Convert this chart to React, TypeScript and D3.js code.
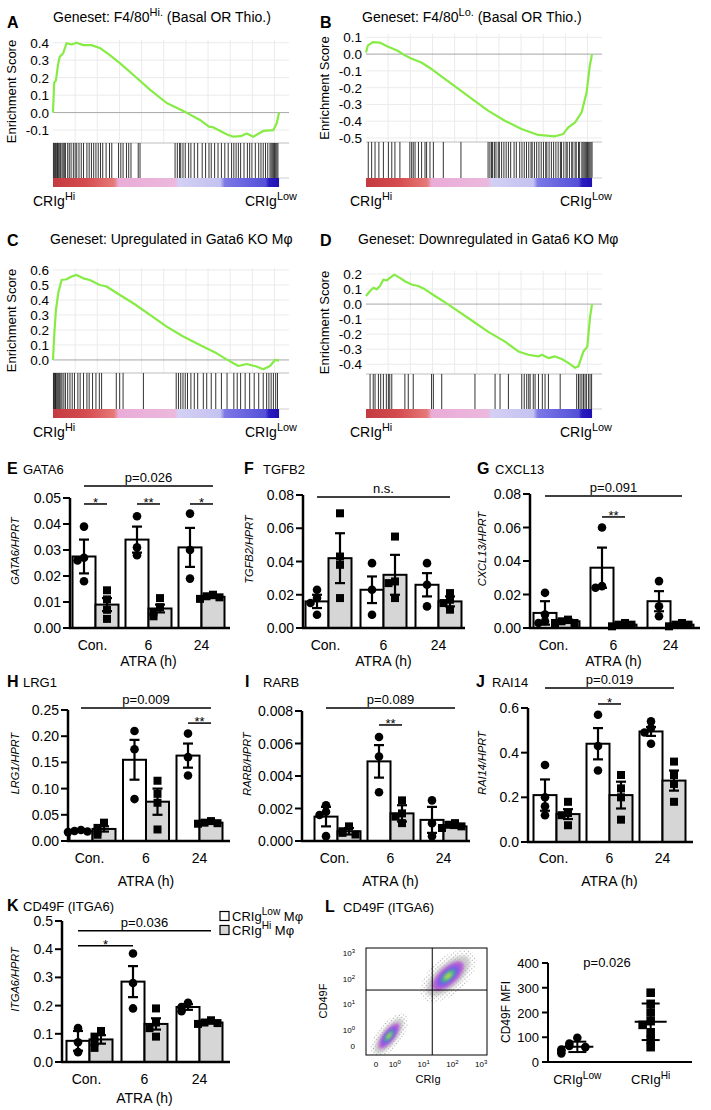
import React from "react";
import * as d3 from "d3";

const FONT = "'Liberation Sans', Arial, Helvetica, sans-serif";

// ---------------- GSEA data (rank fraction, enrichment score) ----------------
const A_rank = [0, 0.005, 0.013, 0.023, 0.03, 0.045, 0.06, 0.082, 0.104, 0.134, 0.17, 0.21, 0.25, 0.297, 0.356, 0.43, 0.503, 0.59, 0.65, 0.69, 0.71, 0.77, 0.798, 0.83, 0.857, 0.886, 0.93, 0.975, 0.99, 1.0];
const A_es = [0, 0.17, 0.185, 0.28, 0.32, 0.34, 0.397, 0.39, 0.4, 0.386, 0.386, 0.368, 0.33, 0.282, 0.215, 0.13, 0.055, 0, -0.042, -0.08, -0.085, -0.125, -0.138, -0.135, -0.12, -0.138, -0.105, -0.1, -0.06, 0];
const A_hits = [0.002, 0.006, 0.01, 0.013, 0.017, 0.02, 0.025, 0.03, 0.034, 0.04, 0.045, 0.05, 0.055, 0.065, 0.072, 0.08, 0.09, 0.098, 0.105, 0.115, 0.125, 0.135, 0.15, 0.16, 0.17, 0.18, 0.19, 0.2, 0.21, 0.22, 0.235, 0.25, 0.26, 0.29, 0.3, 0.31, 0.325, 0.335, 0.345, 0.377, 0.385, 0.54, 0.55, 0.56, 0.565, 0.575, 0.585, 0.6, 0.61, 0.625, 0.64, 0.66, 0.675, 0.69, 0.7, 0.715, 0.73, 0.745, 0.76, 0.775, 0.79, 0.8, 0.81, 0.82, 0.83, 0.845, 0.86, 0.87, 0.88, 0.895, 0.91, 0.92, 0.93, 0.94, 0.95, 0.96, 0.965, 0.97, 0.975, 0.98, 0.985, 0.99, 0.995];

const B_rank = [0, 0.008, 0.03, 0.06, 0.096, 0.14, 0.17, 0.2, 0.245, 0.29, 0.35, 0.394, 0.47, 0.54, 0.614, 0.688, 0.762, 0.836, 0.873, 0.895, 0.925, 0.954, 0.976, 0.99, 1.0];
const B_es = [0.01, 0.05, 0.072, 0.069, 0.046, 0.02, -0.006, -0.026, -0.05, -0.089, -0.149, -0.193, -0.268, -0.337, -0.397, -0.446, -0.482, -0.49, -0.476, -0.437, -0.407, -0.347, -0.228, -0.069, 0];
const B_hits = [0.01, 0.025, 0.04, 0.057, 0.077, 0.099, 0.114, 0.128, 0.15, 0.194, 0.202, 0.209, 0.217, 0.232, 0.246, 0.261, 0.268, 0.283, 0.298, 0.342, 0.42, 0.54, 0.548, 0.555, 0.56, 0.568, 0.575, 0.585, 0.59, 0.6, 0.61, 0.62, 0.63, 0.64, 0.655, 0.665, 0.68, 0.69, 0.7, 0.71, 0.72, 0.73, 0.735, 0.745, 0.755, 0.765, 0.775, 0.785, 0.795, 0.8, 0.81, 0.82, 0.83, 0.84, 0.85, 0.86, 0.865, 0.875, 0.885, 0.89, 0.9, 0.91, 0.915, 0.925, 0.93, 0.94, 0.945, 0.955, 0.96, 0.965, 0.97, 0.975, 0.98, 0.985, 0.99, 0.995, 1.0];

const C_rank = [0, 0.006, 0.013, 0.023, 0.038, 0.06, 0.082, 0.104, 0.134, 0.163, 0.207, 0.237, 0.296, 0.355, 0.429, 0.503, 0.576, 0.65, 0.724, 0.768, 0.82, 0.857, 0.9, 0.93, 0.96, 0.982, 1.0];
const C_es = [0, 0.178, 0.333, 0.444, 0.533, 0.538, 0.556, 0.567, 0.544, 0.533, 0.5, 0.49, 0.433, 0.378, 0.3, 0.222, 0.156, 0.1, 0.044, 0.004, -0.04, -0.027, -0.044, -0.062, -0.04, 0, -0.004];
const C_hits = [0.002, 0.005, 0.008, 0.011, 0.014, 0.018, 0.022, 0.026, 0.03, 0.035, 0.04, 0.048, 0.055, 0.065, 0.075, 0.085, 0.095, 0.11, 0.12, 0.135, 0.15, 0.16, 0.175, 0.19, 0.205, 0.215, 0.28, 0.295, 0.31, 0.4, 0.545, 0.555, 0.565, 0.575, 0.585, 0.595, 0.61, 0.625, 0.64, 0.665, 0.68, 0.7, 0.72, 0.745, 0.77, 0.8, 0.815, 0.83, 0.85, 0.87, 0.89, 0.91, 0.93, 0.945, 0.955, 0.965, 0.975, 0.985, 0.993];

const D_rank = [0, 0.018, 0.033, 0.047, 0.062, 0.077, 0.092, 0.106, 0.125, 0.15, 0.172, 0.202, 0.231, 0.261, 0.305, 0.35, 0.394, 0.468, 0.541, 0.615, 0.674, 0.718, 0.763, 0.778, 0.807, 0.836, 0.866, 0.895, 0.925, 0.94, 0.962, 0.979, 0.991, 1.0];
const D_es = [0.054, 0.087, 0.109, 0.098, 0.12, 0.163, 0.157, 0.174, 0.196, 0.174, 0.152, 0.13, 0.12, 0.098, 0.054, 0.011, -0.033, -0.109, -0.185, -0.25, -0.315, -0.337, -0.348, -0.337, -0.359, -0.348, -0.365, -0.391, -0.424, -0.413, -0.315, -0.283, -0.087, 0];
const D_hits = [0.018, 0.032, 0.04, 0.055, 0.065, 0.077, 0.09, 0.099, 0.105, 0.114, 0.172, 0.187, 0.209, 0.29, 0.298, 0.335, 0.482, 0.571, 0.593, 0.63, 0.689, 0.7, 0.711, 0.72, 0.726, 0.74, 0.748, 0.763, 0.78, 0.792, 0.807, 0.859, 0.932, 0.94, 0.947, 0.955, 0.962, 0.969, 0.975, 0.984, 0.991, 0.998];

const GRID_RANKS = [0.098, 0.196, 0.294, 0.392, 0.49, 0.588, 0.686, 0.784, 0.882, 0.98];
const CBAR_OFFSETS = [0, 0.15, 0.27, 0.29, 0.54, 0.555, 0.74, 0.76, 0.94, 0.955, 1];
const CBAR_COLORS = ["#c33a40", "#d64d50", "#e57a78", "#e9acd8", "#ecb8dc", "#d2d0f4", "#c4c2f0", "#7c78e6", "#5450d8", "#2a1cc0", "#1e10b0"];

// ---------------- qPCR bar data ----------------
const CATS = ["Con.", "6", "24"];
const SERIES = ["low", "hi"];

const GATA6_low_mean = [0.0275, 0.034, 0.031];
const GATA6_low_sem = [0.0065, 0.005, 0.0075];
const GATA6_low_pts = [[0.039, 0.027, 0.026, 0.018], [0.043, 0.031, 0.028], [0.044, 0.03, 0.019]];
const GATA6_hi_mean = [0.009, 0.0075, 0.012];
const GATA6_hi_sem = [0.0025, 0.0015, 0.0005];
const GATA6_hi_pts = [[0.0145, 0.011, 0.007, 0.0035], [0.0115, 0.008, 0.006, 0.0045], [0.0128, 0.0122, 0.0118, 0.0112]];

const TGFB2_low_mean = [0.016, 0.023, 0.026];
const TGFB2_low_sem = [0.004, 0.008, 0.007];
const TGFB2_low_pts = [[0.023, 0.018, 0.015, 0.008], [0.039, 0.023, 0.008], [0.039, 0.026, 0.013]];
const TGFB2_hi_mean = [0.042, 0.032, 0.016];
const TGFB2_hi_sem = [0.015, 0.012, 0.003];
const TGFB2_hi_pts = [[0.069, 0.043, 0.038, 0.018], [0.055, 0.028, 0.027, 0.018], [0.021, 0.017, 0.015, 0.011]];

const CXCL13_low_mean = [0.009, 0.036, 0.016];
const CXCL13_low_sem = [0.007, 0.012, 0.006];
const CXCL13_low_pts = [[0.021, 0.008, 0.004, 0.003], [0.06, 0.025, 0.024], [0.028, 0.013, 0.007]];
const CXCL13_hi_mean = [0.004, 0.002, 0.002];
const CXCL13_hi_sem = [0.001, 0.0008, 0.0008];
const CXCL13_hi_pts = [[0.005, 0.004, 0.003, 0.003], [0.003, 0.002, 0.002, 0.001], [0.003, 0.002, 0.002, 0.001]];

const LRG1_low_mean = [0.019, 0.155, 0.163];
const LRG1_low_sem = [0.0015, 0.038, 0.023];
const LRG1_low_pts = [[0.021, 0.019, 0.018, 0.017], [0.21, 0.175, 0.08], [0.205, 0.16, 0.125]];
const LRG1_hi_mean = [0.023, 0.075, 0.035];
const LRG1_hi_sem = [0.005, 0.025, 0.002];
const LRG1_hi_pts = [[0.035, 0.025, 0.018, 0.012], [0.115, 0.09, 0.073, 0.022], [0.038, 0.035, 0.034, 0.033]];

const RARB_low_mean = [0.0015, 0.0049, 0.0013];
const RARB_low_sem = [0.0006, 0.001, 0.0008];
const RARB_low_pts = [[0.0022, 0.0018, 0.0016, 0.0003], [0.0064, 0.0052, 0.003], [0.0025, 0.0011, 0.0003]];
const RARB_hi_mean = [0.0006, 0.0017, 0.0009];
const RARB_hi_sem = [0.0002, 0.0005, 0.0001];
const RARB_hi_pts = [[0.0009, 0.0006, 0.0005, 0.0004], [0.0025, 0.0017, 0.0015, 0.0011], [0.0011, 0.001, 0.0009, 0.0008]];

const RAI14_low_mean = [0.21, 0.44, 0.495];
const RAI14_low_sem = [0.07, 0.07, 0.02];
const RAI14_low_pts = [[0.345, 0.2, 0.16, 0.12], [0.57, 0.43, 0.32], [0.54, 0.51, 0.49, 0.44]];
const RAI14_hi_mean = [0.125, 0.21, 0.275];
const RAI14_hi_sem = [0.022, 0.06, 0.045];
const RAI14_hi_pts = [[0.18, 0.13, 0.12, 0.075], [0.3, 0.24, 0.2, 0.1], [0.36, 0.3, 0.26, 0.18]];

const ITGA6_low_mean = [0.075, 0.285, 0.195];
const ITGA6_low_sem = [0.035, 0.055, 0.01];
const ITGA6_low_pts = [[0.12, 0.07, 0.035], [0.385, 0.28, 0.19], [0.21, 0.195, 0.18]];
const ITGA6_hi_mean = [0.08, 0.135, 0.14];
const ITGA6_hi_sem = [0.015, 0.02, 0.004];
const ITGA6_hi_pts = [[0.11, 0.09, 0.07, 0.05], [0.19, 0.14, 0.12, 0.09], [0.148, 0.14, 0.138, 0.135]];

// ---------------- Flow / MFI data ----------------
const FLOW_TICK_POS = [-0.65, 0, 1, 2, 3];
const FLOW_TICK_EXP = ["", "0", "1", "2", "3"];
const FLOW_CLUSTER_X = [1.85, -0.2];
const FLOW_CLUSTER_Y = [2.1, -0.25];
const FLOW_CLUSTER_RX = [0.95, 0.75];
const FLOW_CLUSTER_RY = [0.42, 0.28];
const FLOW_CLUSTER_ANGLE = [-42, -52];
const FLOW_GATE_X = 1.3;
const FLOW_GATE_Y = 1.55;

const MFI_GROUPS = ["Low", "Hi"];
const MFI_low = [98, 75, 65, 60, 50, 45, 35];
const MFI_hi = [280, 235, 200, 165, 150, 120, 90, 60];
const MFI_TICKS = [0, 100, 200, 300, 400];

// ---------------- helpers ----------------
function spread(vals: number[], y: (v: number) => number, gap: number, thresh: number) {
  const out: number[] = [];
  vals.forEach((v, i) => {
    let k = 0;
    for (let j = 0; j < i; j++) if (Math.abs(y(vals[j]) - y(v)) < thresh) k++;
    out.push(k === 0 ? 0 : (k % 2 ? -1 : 1) * Math.ceil(k / 2) * gap);
  });
  return out;
}

function CRIg({ x, y, sup, size = 14, anchor = "start", extra = "" }: any) {
  return (
    <text x={x} y={y} fontSize={size} textAnchor={anchor} fontFamily={FONT}>
      CRIg
      <tspan fontSize={size * 0.78} dy={-size * 0.42}>{sup}</tspan>
      {extra ? <tspan dy={size * 0.42}>{extra}</tspan> : null}
    </text>
  );
}

function Gsea({ cfg }: any) {
  const x = d3.scaleLinear().domain([0, 1.044]).range([cfg.x0, cfg.x1]);
  const y = d3.scaleLinear().domain([cfg.esMin, cfg.esMax]).range([cfg.esBottom, cfg.top]);
  const pts: [number, number][] = cfg.rank.map((r: number, i: number) => [r, cfg.es[i]]);
  const path = d3.line<[number, number]>().x((d) => x(d[0])).y((d) => y(d[1]))(pts) || "";
  return (
    <g fontFamily={FONT}>
      {GRID_RANKS.map((r, i) => (
        <line key={"v" + i} x1={x(r)} x2={x(r)} y1={cfg.top} y2={cfg.esBottom} stroke="#ebebeb" strokeWidth={1} />
      ))}
      {cfg.ticks.map((t: number, i: number) => (
        <line key={"h" + i} x1={cfg.x0} x2={cfg.x1} y1={y(t)} y2={y(t)} stroke={t === 0 ? "#a6a6a6" : "#ebebeb"} strokeWidth={1} />
      ))}
      {cfg.ticks.map((t: number, i: number) => (
        <text key={"t" + i} x={cfg.tickX} y={y(t) + 5} fontSize={13.5} textAnchor="end">{t.toFixed(1)}</text>
      ))}
      <line x1={cfg.x0} x2={cfg.x1} y1={cfg.esBottom} y2={cfg.esBottom} stroke="#bdbdbd" strokeWidth={1} />
      <path d={path} fill="none" stroke="#86ec45" strokeWidth={2.2} strokeLinejoin="round" />
      {cfg.hits.map((h: number, i: number) => (
        <line key={"k" + i} x1={x(h)} x2={x(h)} y1={cfg.esBottom} y2={cfg.hitBottom} stroke="#111" strokeWidth={1} opacity={0.85} />
      ))}
      <rect x={x(0)} y={cfg.hitBottom} width={x(1) - x(0)} height={cfg.barBottom - cfg.hitBottom} fill="url(#cbar)" />
      <line x1={x(1)} x2={cfg.x1} y1={cfg.hitBottom} y2={cfg.hitBottom} stroke="#cfcfcf" strokeWidth={1} />
      <text transform={`translate(${cfg.yLabelX},${(cfg.top + cfg.esBottom) / 2}) rotate(-90)`} fontSize={13} textAnchor="middle">Enrichment Score</text>
      <text x={cfg.letterX} y={cfg.letterY} fontSize={16} fontWeight="bold">{cfg.letter}</text>
      <text x={cfg.titleX} y={cfg.titleY} fontSize={14}>
        {cfg.title1}
        {cfg.titleSup ? <tspan fontSize={11} dy={-6}>{cfg.titleSup}</tspan> : null}
        {cfg.titleSup ? <tspan dy={6}>{cfg.title2}</tspan> : null}
      </text>
      <CRIg x={cfg.hiX} y={cfg.labelY} sup="Hi" />
      <CRIg x={cfg.lowX} y={cfg.labelY} sup="Low" />
    </g>
  );
}

function BarPanel({ cfg }: any) {
  const y = d3.scaleLinear().domain([0, cfg.yMaxVal]).range([cfg.y0, cfg.yMaxPx]);
  const xb = d3
    .scaleBand()
    .domain(CATS)
    .range([cfg.bandStart, cfg.bandStart + 2 * cfg.step + cfg.bw])
    .paddingInner(1 - cfg.bw / cfg.step)
    .paddingOuter(0);
  const xs = d3.scaleBand().domain(SERIES).range([0, xb.bandwidth()]);
  const cx = (g: number, s: number) => (xb(CATS[g]) as number) + (xs(SERIES[s]) as number) + xs.bandwidth() / 2;
  const series = [
    { mean: cfg.lowMean, sem: cfg.lowSem, pts: cfg.lowPts, fill: "#ffffff" },
    { mean: cfg.hiMean, sem: cfg.hiSem, pts: cfg.hiPts, fill: "#d6d6d6" },
  ];
  const plotMid = (cfg.y0 + cfg.yMaxPx) / 2;
  return (
    <g fontFamily={FONT}>
      <text x={cfg.letterX} y={cfg.letterY} fontSize={16} fontWeight="bold">{cfg.letter}</text>
      <text x={cfg.geneX} y={cfg.letterY} fontSize={13}>{cfg.gene}</text>
      {series.map((s, si) =>
        CATS.map((c, gi) => {
          const bx = (xb(c) as number) + (xs(SERIES[si]) as number);
          const m = s.mean[gi];
          const e = s.sem[gi];
          const center = cx(gi, si);
          const offs = spread(s.pts[gi], y, 6.5, 6);
          return (
            <g key={si + "-" + gi}>
              <rect x={bx} y={y(m)} width={xs.bandwidth()} height={cfg.y0 - y(m)} fill={s.fill} stroke="#000" strokeWidth={2} />
              <line x1={center} x2={center} y1={y(Math.max(0, m - e))} y2={y(m + e)} stroke="#000" strokeWidth={2.2} />
              <line x1={center - 5} x2={center + 5} y1={y(m + e)} y2={y(m + e)} stroke="#000" strokeWidth={2.2} />
              <line x1={center - 5} x2={center + 5} y1={y(Math.max(0, m - e))} y2={y(Math.max(0, m - e))} stroke="#000" strokeWidth={2.2} />
              {s.pts[gi].map((v: number, pi: number) =>
                si === 0 ? (
                  <circle key={pi} cx={center + offs[pi]} cy={y(v)} r={4.3} fill="#000" />
                ) : (
                  <rect key={pi} x={center + offs[pi] - 4} y={y(v) - 4} width={8} height={8} fill="#000" />
                )
              )}
            </g>
          );
        })
      )}
      <line x1={cfg.axisX} x2={cfg.axisX} y1={cfg.y0 + 1} y2={cfg.yMaxPx} stroke="#000" strokeWidth={2.5} />
      <line x1={cfg.axisX - 1} x2={cfg.xEnd} y1={cfg.y0} y2={cfg.y0} stroke="#000" strokeWidth={2.5} />
      {cfg.ticks.map((t: number, i: number) => (
        <g key={i}>
          <line x1={cfg.axisX - 7} x2={cfg.axisX} y1={y(t)} y2={y(t)} stroke="#000" strokeWidth={2} />
          <text x={cfg.axisX - 9} y={y(t) + 5} fontSize={14} textAnchor="end">{t.toFixed(cfg.dec)}</text>
        </g>
      ))}
      {CATS.map((c, gi) => (
        <text key={c} x={(xb(c) as number) + xb.bandwidth() / 2 - (gi === 0 ? 3 : 0)} y={cfg.catY} fontSize={14} textAnchor="middle">{c}</text>
      ))}
      <text x={(cfg.bandStart + cfg.bandStart + 2 * cfg.step + cfg.bw) / 2} y={cfg.atraY} fontSize={14} textAnchor="middle">ATRA (h)</text>
      <text transform={`translate(${cfg.yLabelX},${plotMid - 12}) rotate(-90)`} fontSize={11} fontStyle="italic" textAnchor="middle">{cfg.yLabel}</text>
      {cfg.anns.map((a: any, i: number) => {
        const x1 = cx(a.from[0], a.from[1]);
        const x2 = cx(a.to[0], a.to[1]);
        const ly = y(a.y);
        return (
          <g key={"a" + i}>
            <line x1={x1} x2={x2} y1={ly} y2={ly} stroke="#000" strokeWidth={1.5} />
            <text x={(x1 + x2) / 2} y={a.star ? ly + 3 : ly - 4} fontSize={13} textAnchor="middle">{a.text}</text>
          </g>
        );
      })}
    </g>
  );
}

function FlowPanel() {
  const left = 366, right = 487, top = 948, bottom = 1055;
  const fx = d3.scaleLinear().domain([-1.0, 3.2]).range([left, right]);
  const fy = d3.scaleLinear().domain([-1.0, 3.2]).range([bottom, top]);
  const layers = [1.0, 0.72, 0.5, 0.32, 0.16];
  const colors = ["#bdbdbd", "#b14cd6", "#6a5cf0", "#39c77a", "#d8e24a"];
  return (
    <g fontFamily={FONT}>
      <text x={325} y={912} fontSize={16} fontWeight="bold">L</text>
      <text x={343} y={912} fontSize={13}>CD49F (ITGA6)</text>
      <defs>
        <clipPath id="flowclip">
          <rect x={left} y={top} width={right - left} height={bottom - top} />
        </clipPath>
      </defs>
      <g clipPath="url(#flowclip)">
        {FLOW_CLUSTER_X.map((cxv, ci) => {
          const px = fx(cxv);
          const py = fy(FLOW_CLUSTER_Y[ci]);
          const rx = fx(FLOW_CLUSTER_RX[ci]) - fx(0);
          const ry = fx(FLOW_CLUSTER_RY[ci]) - fx(0);
          return (
            <g key={ci} transform={`translate(${px},${py}) rotate(${FLOW_CLUSTER_ANGLE[ci]})`}>
              <ellipse rx={rx * 1.25} ry={ry * 1.5} fill="url(#speck)" />
              {layers.map((f, li) => (
                <ellipse key={li} rx={rx * f} ry={ry * f} fill={colors[li]} opacity={li === 0 ? 0.7 : 0.85} filter="url(#blur)" />
              ))}
            </g>
          );
        })}
      </g>
      <rect x={left} y={top} width={right - left} height={bottom - top} fill="none" stroke="#000" strokeWidth={1} />
      <line x1={fx(FLOW_GATE_X)} x2={fx(FLOW_GATE_X)} y1={top} y2={bottom} stroke="#000" strokeWidth={1} />
      <line x1={left} x2={right} y1={fy(FLOW_GATE_Y)} y2={fy(FLOW_GATE_Y)} stroke="#000" strokeWidth={1} />
      {FLOW_TICK_POS.map((p, i) => (
        <g key={i}>
          <text x={fx(p)} y={1067} fontSize={8} textAnchor="middle">
            {FLOW_TICK_EXP[i] === "" ? "0" : "10"}
            {FLOW_TICK_EXP[i] !== "" ? <tspan fontSize={6} dy={-3}>{FLOW_TICK_EXP[i]}</tspan> : null}
          </text>
          <text x={355} y={fy(p) + 3} fontSize={8} textAnchor="end">
            {FLOW_TICK_EXP[i] === "" ? "0" : "10"}
            {FLOW_TICK_EXP[i] !== "" ? <tspan fontSize={6} dy={-3}>{FLOW_TICK_EXP[i]}</tspan> : null}
          </text>
        </g>
      ))}
      <text x={428} y={1083} fontSize={11} textAnchor="middle">CRIg</text>
      <text transform={`translate(327,1001) rotate(-90)`} fontSize={11} textAnchor="middle">CD49F</text>
    </g>
  );
}

function MfiPanel() {
  const y = d3.scaleLinear().domain([0, 400]).range([1062, 963]);
  const xp = d3.scalePoint().domain(MFI_GROUPS).range([548, 680]).padding(0.4);
  const groups = [MFI_low, MFI_hi];
  return (
    <g fontFamily={FONT}>
      <line x1={548} x2={548} y1={1063} y2={963} stroke="#000" strokeWidth={2} />
      <line x1={547} x2={692} y1={1062} y2={1062} stroke="#000" strokeWidth={2} />
      {MFI_TICKS.map((t) => (
        <g key={t}>
          <line x1={542} x2={548} y1={y(t)} y2={y(t)} stroke="#000" strokeWidth={2} />
          <text x={539} y={y(t) + 5} fontSize={13} textAnchor="end">{t}</text>
        </g>
      ))}
      <text transform={`translate(510,1012) rotate(-90)`} fontSize={12} textAnchor="middle">CD49F MFI</text>
      <text x={607} y={967} fontSize={13} textAnchor="middle">p=0.026</text>
      {groups.map((vals, gi) => {
        const cxv = xp(MFI_GROUPS[gi]) as number;
        const m = d3.mean(vals) as number;
        const sd = d3.deviation(vals) as number;
        const offs = spread(vals, y, 8, 7);
        return (
          <g key={gi}>
            {vals.map((v, i) =>
              gi === 0 ? (
                <circle key={i} cx={cxv + offs[i]} cy={y(v)} r={4.3} fill="#000" />
              ) : (
                <rect key={i} x={cxv + offs[i] - 4.3} y={y(v) - 4.3} width={8.6} height={8.6} fill="#000" />
              )
            )}
            <line x1={cxv - 16} x2={cxv + 16} y1={y(m)} y2={y(m)} stroke="#000" strokeWidth={2} />
            <line x1={cxv} x2={cxv} y1={y(m - sd)} y2={y(m + sd)} stroke="#000" strokeWidth={2} />
            <line x1={cxv - 9} x2={cxv + 9} y1={y(m + sd)} y2={y(m + sd)} stroke="#000" strokeWidth={2} />
            <line x1={cxv - 9} x2={cxv + 9} y1={y(m - sd)} y2={y(m - sd)} stroke="#000" strokeWidth={2} />
            <CRIg x={cxv} y={1084} sup={MFI_GROUPS[gi] === "Low" ? "Low" : "Hi"} size={13} anchor="middle" />
          </g>
        );
      })}
    </g>
  );
}

// ---------------- configs ----------------
const gseaA = { x0: 53, x1: 289, top: 40, esBottom: 143, hitBottom: 178, barBottom: 187, esMin: -0.174, esMax: 0.4155, ticks: [0.4, 0.3, 0.2, 0.1, 0, -0.1], rank: A_rank, es: A_es, hits: A_hits, tickX: 49, yLabelX: 16, letter: "A", letterX: 7, letterY: 28, titleX: 53, titleY: 22, title1: "Geneset: F4/80", titleSup: "Hi.", title2: " (Basal OR Thio.)", hiX: 33, lowX: 245, labelY: 206 };
const gseaB = { x0: 366, x1: 602, top: 34, esBottom: 142, hitBottom: 178, barBottom: 187, esMin: -0.524, esMax: 0.12, ticks: [0.1, 0, -0.1, -0.2, -0.3, -0.4, -0.5], rank: B_rank, es: B_es, hits: B_hits, tickX: 362, yLabelX: 329, letter: "B", letterX: 320, letterY: 28, titleX: 362, titleY: 22, title1: "Geneset: F4/80", titleSup: "Lo.", title2: " (Basal OR Thio.)", hiX: 350, lowX: 560, labelY: 206 };
const gseaC = { x0: 53, x1: 289, top: 268, esBottom: 373, hitBottom: 409, barBottom: 418, esMin: -0.087, esMax: 0.613, ticks: [0.6, 0.5, 0.4, 0.3, 0.2, 0.1, 0], rank: C_rank, es: C_es, hits: C_hits, tickX: 49, yLabelX: 16, letter: "C", letterX: 7, letterY: 246, titleX: 50, titleY: 244, title1: "Geneset: Upregulated in Gata6 KO Mφ", titleSup: "", title2: "", hiX: 33, lowX: 245, labelY: 437 };
const gseaD = { x0: 366, x1: 602, top: 271, esBottom: 374, hitBottom: 409, barBottom: 418, esMin: -0.465, esMax: 0.22, ticks: [0.2, 0.1, 0, -0.1, -0.2, -0.3, -0.4], rank: D_rank, es: D_es, hits: D_hits, tickX: 362, yLabelX: 329, letter: "D", letterX: 320, letterY: 246, titleX: 358, titleY: 244, title1: "Geneset: Downregulated in Gata6 KO Mφ", titleSup: "", title2: "", hiX: 350, lowX: 560, labelY: 437 };

const barE = { letter: "E", letterX: 7, letterY: 474, gene: "GATA6", geneX: 23, axisX: 70, xEnd: 230, y0: 628, yMaxPx: 498, yMaxVal: 0.05, ticks: [0, 0.01, 0.02, 0.03, 0.04, 0.05], dec: 2, bandStart: 72.5, step: 53, bw: 46, lowMean: GATA6_low_mean, lowSem: GATA6_low_sem, lowPts: GATA6_low_pts, hiMean: GATA6_hi_mean, hiSem: GATA6_hi_sem, hiPts: GATA6_hi_pts, yLabel: "GATA6/HPRT", yLabelX: 19, catY: 650, atraY: 666, anns: [{ y: 0.0546, from: [0, 0], to: [2, 1], text: "p=0.026" }, { y: 0.0477, from: [0, 0], to: [0, 1], text: "*", star: true }, { y: 0.0477, from: [1, 0], to: [1, 1], text: "**", star: true }, { y: 0.0477, from: [2, 0], to: [2, 1], text: "*", star: true }] };
const barF = { letter: "F", letterX: 244, letterY: 474, gene: "TGFB2", geneX: 263, axisX: 303, xEnd: 465, y0: 628, yMaxPx: 495, yMaxVal: 0.08, ticks: [0, 0.02, 0.04, 0.06, 0.08], dec: 2, bandStart: 305.5, step: 55, bw: 46, lowMean: TGFB2_low_mean, lowSem: TGFB2_low_sem, lowPts: TGFB2_low_pts, hiMean: TGFB2_hi_mean, hiSem: TGFB2_hi_sem, hiPts: TGFB2_hi_pts, yLabel: "TGFB2/HPRT", yLabelX: 253, catY: 650, atraY: 666, anns: [{ y: 0.0788, from: [0, 0], to: [2, 1], text: "n.s." }] };
const barG = { letter: "G", letterX: 477, letterY: 474, gene: "CXCL13", geneX: 495, axisX: 530, xEnd: 700, y0: 628, yMaxPx: 494, yMaxVal: 0.08, ticks: [0, 0.02, 0.04, 0.06, 0.08], dec: 2, bandStart: 533.5, step: 57, bw: 46, lowMean: CXCL13_low_mean, lowSem: CXCL13_low_sem, lowPts: CXCL13_low_pts, hiMean: CXCL13_hi_mean, hiSem: CXCL13_hi_sem, hiPts: CXCL13_hi_pts, yLabel: "CXCL13/HPRT", yLabelX: 486, catY: 650, atraY: 666, anns: [{ y: 0.0788, from: [0, 0], to: [2, 1], text: "p=0.091" }, { y: 0.0663, from: [1, 0], to: [1, 1], text: "**", star: true }] };
const barH = { letter: "H", letterX: 7, letterY: 687, gene: "LRG1", geneX: 23, axisX: 68, xEnd: 230, y0: 841, yMaxPx: 710, yMaxVal: 0.25, ticks: [0, 0.05, 0.1, 0.15, 0.2, 0.25], dec: 2, bandStart: 69.5, step: 53.5, bw: 46, lowMean: LRG1_low_mean, lowSem: LRG1_low_sem, lowPts: LRG1_low_pts, hiMean: LRG1_hi_mean, hiSem: LRG1_hi_sem, hiPts: LRG1_hi_pts, yLabel: "LRG1/HPRT", yLabelX: 19, catY: 863, atraY: 886, anns: [{ y: 0.254, from: [0, 0], to: [2, 1], text: "p=0.009" }, { y: 0.225, from: [2, 0], to: [2, 1], text: "**", star: true }] };
const barI = { letter: "I", letterX: 245, letterY: 687, gene: "RARB", geneX: 263, axisX: 302, xEnd: 470, y0: 841, yMaxPx: 711, yMaxVal: 0.008, ticks: [0, 0.002, 0.004, 0.006, 0.008], dec: 3, bandStart: 314.5, step: 53, bw: 46, lowMean: RARB_low_mean, lowSem: RARB_low_sem, lowPts: RARB_low_pts, hiMean: RARB_hi_mean, hiSem: RARB_hi_sem, hiPts: RARB_hi_pts, yLabel: "RARB/HPRT", yLabelX: 251, catY: 863, atraY: 886, anns: [{ y: 0.00818, from: [0, 0], to: [2, 1], text: "p=0.089" }, { y: 0.00714, from: [1, 0], to: [1, 1], text: "**", star: true }] };
const barJ = { letter: "J", letterX: 476, letterY: 687, gene: "RAI14", geneX: 492, axisX: 528, xEnd: 693, y0: 842, yMaxPx: 708, yMaxVal: 0.6, ticks: [0, 0.2, 0.4, 0.6], dec: 1, bandStart: 533.5, step: 53, bw: 46, lowMean: RAI14_low_mean, lowSem: RAI14_low_sem, lowPts: RAI14_low_pts, hiMean: RAI14_hi_mean, hiSem: RAI14_hi_sem, hiPts: RAI14_hi_pts, yLabel: "RAI14/HPRT", yLabelX: 486, catY: 863, atraY: 886, anns: [{ y: 0.69, from: [0, 0], to: [2, 1], text: "p=0.019" }, { y: 0.618, from: [1, 0], to: [1, 1], text: "*", star: true }] };
const barK = { letter: "K", letterX: 7, letterY: 911, gene: "CD49F (ITGA6)", geneX: 23, axisX: 62, xEnd: 230, y0: 1062, yMaxPx: 921, yMaxVal: 0.5, ticks: [0, 0.1, 0.2, 0.3, 0.4, 0.5], dec: 1, bandStart: 66.5, step: 55, bw: 46, lowMean: ITGA6_low_mean, lowSem: ITGA6_low_sem, lowPts: ITGA6_low_pts, hiMean: ITGA6_hi_mean, hiSem: ITGA6_hi_sem, hiPts: ITGA6_hi_pts, yLabel: "ITGA6/HPRT", yLabelX: 19, catY: 1084, atraY: 1103, anns: [{ y: 0.465, from: [0, 0], to: [2, 1], text: "p=0.036" }, { y: 0.412, from: [0, 0], to: [1, 0], text: "*", star: true }] };

export default function App() {
  return (
    <svg width={711} height={1110} style={{ position: "absolute", left: 0, top: 0, background: "#fff" }} fontFamily={FONT}>
      <defs>
        <linearGradient id="cbar" x1="0" x2="1" y1="0" y2="0">
          {CBAR_OFFSETS.map((o, i) => (
            <stop key={i} offset={o} stopColor={CBAR_COLORS[i]} />
          ))}
        </linearGradient>
        <pattern id="speck" width={3} height={3} patternUnits="userSpaceOnUse">
          <circle cx={1.5} cy={1.5} r={0.6} fill="#999" />
        </pattern>
        <filter id="blur" x="-50%" y="-50%" width="200%" height="200%">
          <feGaussianBlur stdDeviation={1.6} />
        </filter>
      </defs>
      <rect x={0} y={0} width={711} height={1110} fill="#fff" />
      <Gsea cfg={gseaA} />
      <Gsea cfg={gseaB} />
      <Gsea cfg={gseaC} />
      <Gsea cfg={gseaD} />
      <BarPanel cfg={barE} />
      <BarPanel cfg={barF} />
      <BarPanel cfg={barG} />
      <BarPanel cfg={barH} />
      <BarPanel cfg={barI} />
      <BarPanel cfg={barJ} />
      <BarPanel cfg={barK} />
      <g fontFamily={FONT}>
        <rect x={220} y={911.5} width={9} height={9} fill="#fff" stroke="#000" strokeWidth={1.2} />
        <CRIg x={232} y={920.5} sup="Low" size={13} extra=" Mφ" />
        <rect x={220} y={925.5} width={9} height={9} fill="#d6d6d6" stroke="#000" strokeWidth={1.2} />
        <CRIg x={232} y={934.5} sup="Hi" size={13} extra=" Mφ" />
      </g>
      <FlowPanel />
      <MfiPanel />
    </svg>
  );
}
